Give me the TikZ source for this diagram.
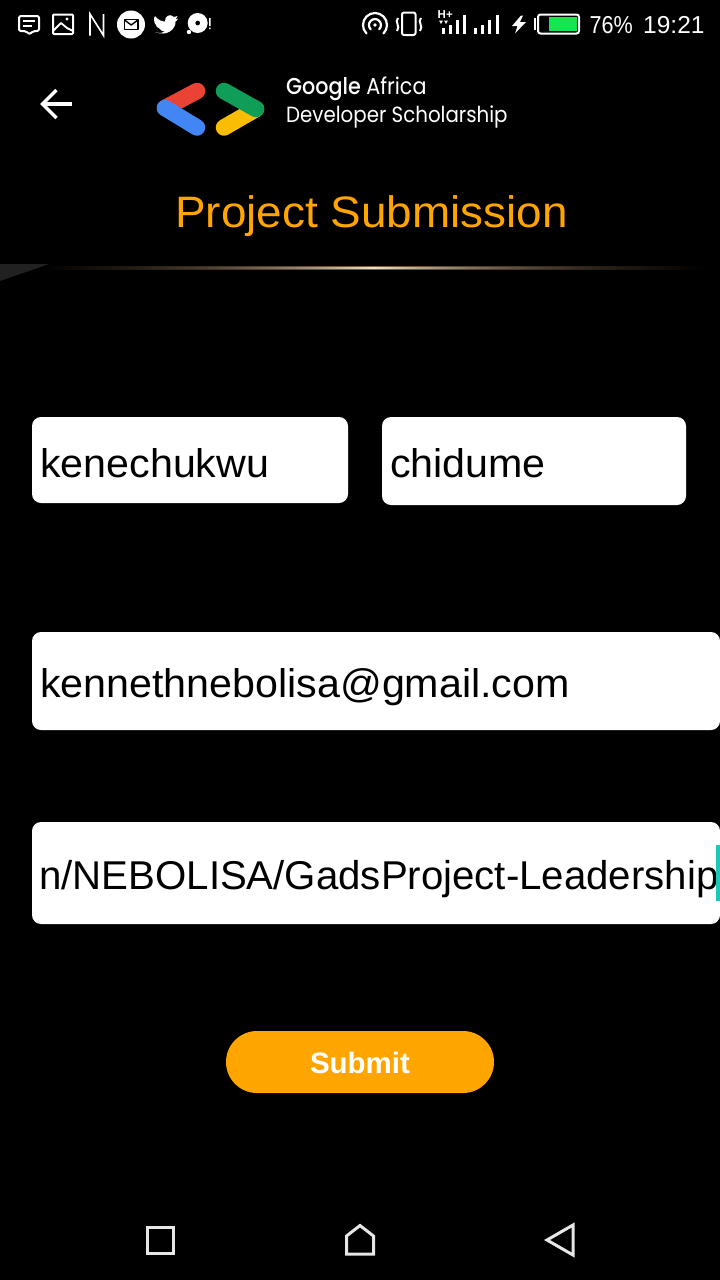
\documentclass[tikz,border=0pt]{standalone}
\usepackage{fontspec}
\setmainfont{Liberation Sans}
\newfontfamily\logofont[FakeStretch=0.9]{Poppins}
\newfontfamily\logobold[FakeStretch=0.9]{Poppins Medium}
\newfontfamily\widefont[FakeStretch=1.03]{Liberation Sans}
\newfontfamily\titlefont[FakeStretch=1.042]{Liberation Sans}
\newfontfamily\narrowfont[FakeStretch=0.88]{Liberation Sans}
\usetikzlibrary{positioning,calc}
\definecolor{gadsorange}{HTML}{FFA500}
\definecolor{gadsred}{HTML}{EA4335}
\definecolor{gadsblue}{HTML}{4285F4}
\definecolor{gadsgreen}{HTML}{0F9D58}
\definecolor{gadsyellow}{HTML}{FBBC04}
\definecolor{batterygreen}{HTML}{14E650}
\definecolor{cursorteal}{HTML}{1DC8B8}
\definecolor{glowtan}{HTML}{F0E6C8}
\definecolor{glowbrown}{HTML}{7A5F42}
\definecolor{navgray}{HTML}{E6E6E6}
\tikzset{
  x=1pt,y=-1pt,
  field/.style={fill=white,rounded corners=9pt},
  fieldtext/.style={anchor=base west,inner sep=0pt,font=\widefont\fontsize{40}{40}\selectfont,text=black},
  statustext/.style={anchor=base west,inner sep=0pt,font=\fontsize{24.5}{24}\selectfont,text=white},
  logotext/.style={anchor=base west,inner sep=0pt,text=white},
  iconline/.style={draw=white,line width=2pt,line join=round},
  logostroke/.style={line width=16.5pt,line cap=round},
  navicon/.style={draw=navgray,line width=3pt,line join=miter},
}
\begin{document}
\begin{tikzpicture}
  \useasboundingbox (0,0) rectangle (720,1280);
  \fill[black] (0,0) rectangle (720,1280);
  % status bar, left
  \draw[iconline,rounded corners=2pt] (19,16) -- (39,16) -- (39,31) -- (33,31) -- (29.5,34.5) -- (26,31) -- (19,31) -- cycle;
  \draw[white,line width=1.8pt] (23,21) -- (35,21) (23,26) -- (32,26);
  \draw[iconline,rounded corners=1pt] (53,14.5) rectangle (73,34);
  \draw[white,line width=1.8pt,line join=round] (53,31) -- (61,23) -- (67,28) -- (73,31);
  \fill[white] (67,19) circle (1.7);
  \draw[white,line width=1.6pt] (90,35.5) -- (90,14) -- (103.5,35.5) -- (103.5,14);
  \fill[white] (131,24.5) circle (14);
  \draw[black,line width=1.6pt,line join=round] (124.5,19.5) rectangle (138,29.5);
  \draw[black,line width=1.4pt,line join=round] (124.5,20) -- (131.2,25) -- (138,20);
  \fill[white] (155,32) .. controls (160,33.5) and (163,33) .. (165,31.5) .. controls (161,31) and (160,29.5) .. (159,28) .. controls (157,28) and (156.5,26.5) .. (156,25)
    .. controls (155,24) and (154,22) .. (154,20) .. controls (154,18) and (154.5,16.5) .. (155,16) .. controls (158,20) and (162,21.5) .. (165,21.5)
    .. controls (164.5,16) and (170,13) .. (174,17) .. controls (175.5,17) and (176.5,16.5) .. (177.5,16) .. controls (177,17.5) and (176,18.5) .. (175.5,19.5)
    .. controls (176.5,19.5) and (177,19) .. (178,18.5) .. controls (177.5,20) and (176.5,21) .. (175.5,21.5)
    .. controls (176,29) and (167,37) .. (155,32) -- cycle;
  \fill[white,even odd rule] (197.7,23) circle (10) (197.7,23) circle (2.5);
  \fill[white] (189,32) circle (2.2);
  \fill[white] (209,18) rectangle (210.5,26) (209,27.5) rectangle (210.5,29);
  % status bar, right
  \draw[white,line width=2.2pt,line cap=round] (366.5,33.5) arc[start angle=135,end angle=405,radius=12];
  \draw[white,line width=2.2pt,line cap=round] (370.7,29.3) arc[start angle=135,end angle=405,radius=6];
  \fill[white] (375,25) circle (1.9);
  \draw[iconline,rounded corners=2pt] (402,12.5) rectangle (415.5,35);
  \draw[white,line width=2pt] (398,18) .. controls (394,22) and (401,26) .. (397,31);
  \draw[white,line width=2pt] (421,18) .. controls (417,22) and (424,26) .. (420,31);
  \node[anchor=base west,inner sep=0pt,font=\fontsize{11.5}{11}\bfseries\selectfont,text=white] (networktype) at (437.5,18) {H+};
  \fill[white] (439,20.5) -- (443,20.5) -- (441,24) -- cycle (444,20.5) -- (448,20.5) -- (446,24) -- cycle;
  \foreach \bx/\by in {442/28,449/25,456/20,463/15,474/28,481/25,488/20,496/15} {
    \fill[white] (\bx,\by) rectangle ++(3,34-\by);
  }
  \fill[white] (521,15.5) -- (512,26) -- (517.5,26) -- (515,33.5) -- (526,22) -- (520,22) -- (523,15.5) -- cycle;
  \fill[white] (534,18) rectangle (535.5,30);
  \draw[white,line width=2pt,rounded corners=2.5pt] (538,14.5) rectangle (579,33.5);
  \fill[batterygreen] (549,17) rectangle (577,31);
  \node[statustext,font=\narrowfont\fontsize{24.5}{24}\selectfont] (batterylevel) at (589.5,33) {76\%};
  \node[statustext] (clock) at (643,33) {19:21};
  % back arrow
  \draw[white,line width=3.5pt] (72,104) -- (43,104);
  \draw[white,line width=3.5pt,line join=miter] (56.5,90) -- (42.5,104) -- (56.5,118);
  % logo
  \draw[logostroke,gadsred] (197,91) -- (165,108);
  \draw[logostroke,gadsblue] (165,108) -- (197,127.5);
  \draw[logostroke,gadsyellow] (224,127.5) -- (256,109);
  \draw[logostroke,gadsgreen] (224,91) -- (256,109);
  \node[logotext,font=\logofont\fontsize{23}{23}\selectfont] (logoone) at (286,94.5) {{\logobold Google} Africa};
  \node[logotext,font=\logofont\fontsize{22}{22}\selectfont] (logotwo) at (286,122.5) {Developer Scholarship};
  % title and divider
  \node[anchor=base west,inner sep=0pt,text=gadsorange,font=\titlefont\fontsize{44}{44}\selectfont] (title) at (175,227) {Project Submission};
  \fill[white!13!black] (0,264) -- (49,264) -- (0,281) -- cycle;
  \foreach \sx in {40,44,...,704} {
    \pgfmathsetmacro\glow{max(0,1-abs(\sx-372)/335)}
    \pgfmathtruncatemacro\glowmix{100*\glow*\glow}
    \fill[glowbrown,opacity=\glow] (\sx,266) rectangle ++(4,1);
    \fill[glowbrown,opacity=\glow] (\sx,269) rectangle ++(4,1);
    \fill[glowtan!\glowmix!glowbrown,opacity=\glow] (\sx,267) rectangle ++(4,2);
  }
  % form
  \fill[field] (32,417) rectangle (348,503);
  \fill[field] (382,417) rectangle (686,505);
  \fill[field] (32,632) rectangle (720,730);
  \fill[field] (32,822) rectangle (720,924);
  \node[fieldtext] (firstname) at (40,477) {kenechukwu};
  \node[fieldtext] (lastname) at (390,477) {chidume};
  \node[fieldtext] (email) at (40,697) {kennethnebolisa@gmail.com};
  \node[fieldtext,font=\fontsize{40.2}{40}\selectfont] (github) at (39,889) {n/NEBOLISA/GadsProject-Leadership};
  \fill[cursorteal] (716,845) rectangle (720,901);
  \fill[gadsorange,rounded corners=31pt] (226,1031) rectangle (494,1093);
  \node[inner sep=0pt,text=white,font=\fontsize{29.5}{30}\bfseries\selectfont] (submit) at (360,1063) {Submit};
  % navigation bar
  \draw[navicon] (147,1227) rectangle (173.5,1253.5);
  \draw[navicon] (346.5,1254) -- (346.5,1236) -- (360,1225.5) -- (373.5,1236) -- (373.5,1254) -- cycle;
  \draw[navicon] (573,1225) -- (547,1240) -- (573,1255) -- cycle;
\end{tikzpicture}
\end{document}
